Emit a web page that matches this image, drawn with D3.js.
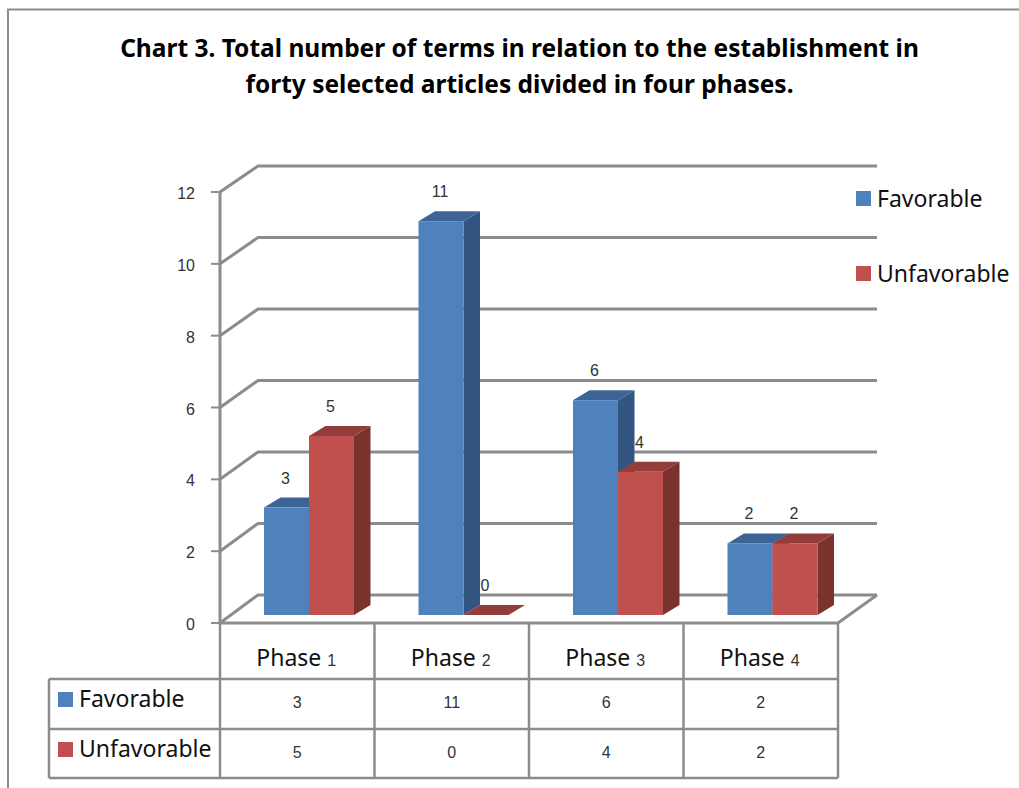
<!DOCTYPE html>
<html>
<head>
<meta charset="utf-8">
<script src="https://cdn.jsdelivr.net/npm/d3@7"></script>
<style>
  html, body { margin: 0; padding: 0; background: #fff; }
  svg { display: block; }
</style>
</head>
<body>
<div id="chart"></div>
<script>
const phases = ["Phase", "Phase", "Phase", "Phase"];
const phaseNums = ["1", "2", "3", "4"];
const seriesNames = ["Favorable", "Unfavorable"];
const favorable = [3, 11, 6, 2];
const unfavorable = [5, 0, 4, 2];
const yTicks = [0, 2, 4, 6, 8, 10, 12];
const titleLines = [
  "Chart 3. Total number of terms in relation to the establishment in",
  "forty selected articles divided in four phases."
];

const width = 1019, height = 788;
const gray = "#8c8c8c";
const colors = { front: ["#4f81bd", "#c0504d"], top: ["#3c6494", "#943c39"], side: ["#325581", "#7a322f"] };
const labelFont = "'Noto Sans', sans-serif";
const numFont = "'Liberation Sans', sans-serif";

const svg = d3.select("#chart").append("svg")
  .attr("width", width)
  .attr("height", height);

// outer frame, runs off the bottom and right of the page
svg.append("path")
  .attr("d", "M8,788V9.5H1019")
  .attr("fill", "none")
  .attr("stroke", gray)
  .attr("stroke-width", 2);

svg.selectAll(".title")
  .data(titleLines)
  .join("text")
  .attr("class", "title")
  .attr("x", 519.5)
  .attr("y", (d, i) => 57 + i * 36)
  .attr("text-anchor", "middle")
  .attr("font-family", labelFont)
  .attr("font-weight", "bold")
  .attr("font-size", 24.5)
  .attr("fill", "#000")
  .text(d => d);

// scales: front wall, back wall, bars
const xBand = d3.scaleBand().domain(d3.range(4)).range([220, 838]);
const yFront = d3.scaleLinear().domain([0, 12]).range([623, 192]);
const yBack = d3.scaleLinear().domain([0, 12]).range([595, 166]);
const yBar = d3.scaleLinear().domain([0, 12]).range([615, 185.4]);
const xSeries = d3.scaleBand().domain(d3.range(2)).range([0, 90]);
const backX = 258, backRight = 877, depthX = 16.5, depthY = 10;

const grid = svg.append("g").attr("fill", "none").attr("stroke", gray).attr("stroke-width", 3);
yTicks.forEach(t => {
  grid.append("path")
    .attr("d", `M220,${yFront(t)}L${backX},${yBack(t)}H${backRight}`);
  grid.append("path")
    .attr("d", `M211,${yFront(t)}H220`)
    .attr("stroke-width", 2);
});
grid.append("path").attr("d", `M220,${yFront(12)}V${yFront(0)}H838L${backRight},${yBack(0)}`);

svg.selectAll(".ytick")
  .data(yTicks)
  .join("text")
  .attr("class", "ytick")
  .attr("x", 195)
  .attr("y", d => yFront(d) + 7)
  .attr("text-anchor", "end")
  .attr("font-family", numFont)
  .attr("font-size", 16)
  .attr("fill", "#333")
  .text(d => d);

// bars, drawn series by series so red sits over the blue side face
const bars = [];
phases.forEach((p, i) => {
  bars.push({ i, s: 0, v: favorable[i] });
  bars.push({ i, s: 1, v: unfavorable[i] });
});
const barX = d => xBand(d.i) + 44 + xSeries(d.s);
const barW = xSeries.bandwidth();

const barG = svg.selectAll(".bar").data(bars).join("g").attr("class", "bar");
barG.append("path")
  .attr("fill", d => colors.side[d.s])
  .attr("d", d => {
    const x = barX(d) + barW, t = yBar(d.v), b = yBar(0);
    return `M${x},${t}L${x + depthX},${t - depthY}V${b - depthY}L${x},${b}Z`;
  });
barG.append("path")
  .attr("fill", d => colors.top[d.s])
  .attr("d", d => {
    const x = barX(d), t = yBar(d.v);
    return `M${x},${t}L${x + depthX},${t - depthY}H${x + barW + depthX}L${x + barW},${t}Z`;
  });
barG.append("rect")
  .attr("x", barX)
  .attr("y", d => yBar(d.v))
  .attr("width", barW)
  .attr("height", d => yBar(0) - yBar(d.v))
  .attr("fill", d => colors.front[d.s]);

svg.selectAll(".val")
  .data(bars)
  .join("text")
  .attr("class", "val")
  .attr("x", d => barX(d) + barW / 2 - 1)
  .attr("y", d => yBar(d.v) - 24)
  .attr("text-anchor", "middle")
  .attr("font-family", numFont)
  .attr("font-size", 16)
  .attr("fill", "#333")
  .text(d => d.v);

// data table under the plot
const rowY = [623, 679, 729, 778];
const table = svg.append("g").attr("fill", "none").attr("stroke", gray).attr("stroke-width", 2.5);
rowY.slice(1).forEach(y => table.append("path").attr("d", `M49,${y}H838`));
d3.range(5).forEach(i => {
  const x = i < 4 ? xBand(i) : 838;
  table.append("path").attr("d", `M${x},623V778`);
});
table.append("path").attr("d", "M49,679V778");

const phaseText = svg.selectAll(".phase")
  .data(phases)
  .join("text")
  .attr("class", "phase")
  .attr("x", (d, i) => xBand(i) + xBand.bandwidth() / 2 - 1)
  .attr("y", 666)
  .attr("text-anchor", "middle")
  .attr("font-family", labelFont)
  .attr("font-size", 23)
  .attr("fill", "#111")
  .text(d => d + " ");
phaseText.append("tspan")
  .attr("font-family", numFont)
  .attr("font-size", 16)
  .attr("fill", "#333")
  .text((d, i) => phaseNums[i]);

[favorable, unfavorable].forEach((vals, s) => {
  svg.selectAll(".cell" + s)
    .data(vals)
    .join("text")
    .attr("class", "cell" + s)
    .attr("x", (d, i) => xBand(i) + xBand.bandwidth() / 2)
    .attr("y", rowY[s + 1] + 29)
    .attr("text-anchor", "middle")
    .attr("font-family", numFont)
    .attr("font-size", 16)
    .attr("fill", "#333")
    .text(d => d);
});

// legend keys: table row labels and the legend on the right
const keys = [
  { x: 58, y: 692, tx: 79, ty: 707 },
  { x: 58, y: 742, tx: 79, ty: 757 },
  { x: 856, y: 191, tx: 877, ty: 207 },
  { x: 856, y: 266, tx: 877, ty: 282 }
];
keys.forEach((k, i) => {
  svg.append("rect")
    .attr("x", k.x).attr("y", k.y)
    .attr("width", 15).attr("height", 15)
    .attr("fill", colors.front[i % 2]);
  svg.append("text")
    .attr("x", k.tx).attr("y", k.ty)
    .attr("font-family", labelFont)
    .attr("font-size", 23)
    .attr("fill", "#111")
    .text(seriesNames[i % 2]);
});
</script>
</body>
</html>
